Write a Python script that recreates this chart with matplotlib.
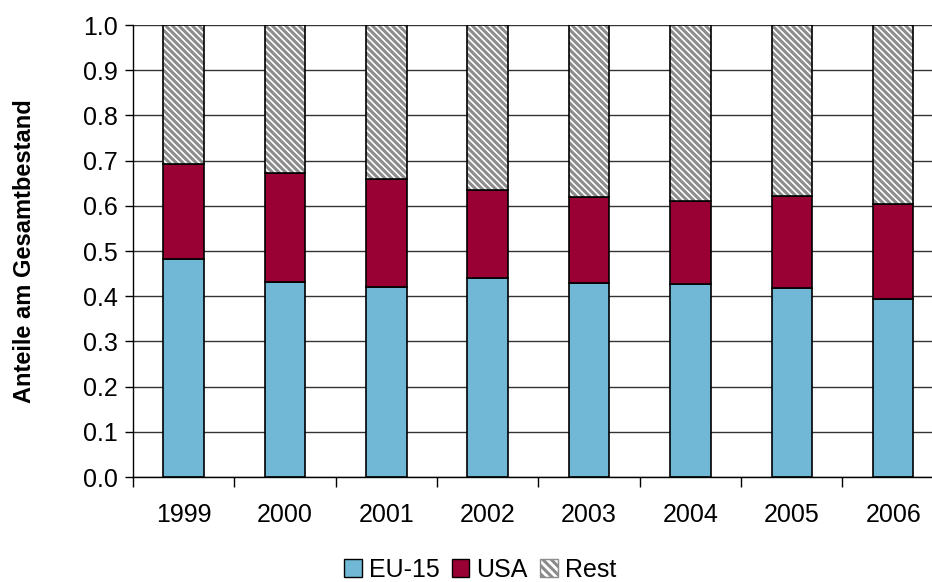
import matplotlib
matplotlib.use("Agg")
import matplotlib.pyplot as plt
import numpy as np
from matplotlib.patches import Patch

plt.rcParams['font.family'] = ['Liberation Sans', 'DejaVu Sans']
plt.rcParams['hatch.linewidth'] = 2.2

years = ['1999', '2000', '2001', '2002', '2003', '2004', '2005', '2006']
eu15 = [0.482, 0.432, 0.420, 0.440, 0.430, 0.426, 0.419, 0.394]
usa = [0.210, 0.240, 0.240, 0.196, 0.190, 0.185, 0.203, 0.209]
rest = [1 - e - u for e, u in zip(eu15, usa)]

fig = plt.figure(figsize=(9.32, 5.82), dpi=100)
ax = fig.add_axes([0.1427, 0.1804, 0.870, 0.7766])

x = np.arange(len(years))
w = 0.4
bottom2 = [e + u for e, u in zip(eu15, usa)]
ax.bar(x, eu15, w, color='#70b8d6', edgecolor='black', lw=1.2, zorder=3)
ax.bar(x, usa, w, bottom=eu15, color='#990033', edgecolor='black', lw=1.2, zorder=3)
# hatch drawn in grey, outline drawn separately in black
ax.bar(x, rest, w, bottom=bottom2, color='white', edgecolor='#8c8c8c', lw=0,
       hatch='\\\\\\\\\\', zorder=3)
ax.bar(x, rest, w, bottom=bottom2, fill=False, edgecolor='black', lw=1.2, zorder=3)

ax.set_xlim(-0.5, 7.5)
ax.set_ylim(0, 1.0)
ax.set_yticks(np.arange(0, 1.01, 0.1))
ax.set_yticklabels([f'{v:.1f}' for v in np.arange(0, 1.01, 0.1)], fontsize=18)
ax.set_xticks(x)
ax.set_xticklabels(years, fontsize=18)
ax.set_xticks(np.arange(-0.5, 8.0, 1.0), minor=True)
ax.tick_params(axis='x', which='major', length=0, pad=19)
ax.tick_params(axis='x', which='minor', length=7, width=1, direction='out')
ax.tick_params(axis='y', length=6, width=1, direction='out', pad=5)

ax.grid(axis='y', color='#333333', lw=1, zorder=0)
for s in ['top', 'right']:
    ax.spines[s].set_visible(False)
for s in ['left', 'bottom']:
    ax.spines[s].set_color('black')
    ax.spines[s].set_linewidth(1)
ax.spines['bottom'].set_zorder(4)

ax.set_ylabel('Anteile am Gesamtbestand', fontsize=17, fontweight='bold', labelpad=34)

handles = [
    Patch(facecolor='#70b8d6', edgecolor='black', lw=1, label='EU-15'),
    Patch(facecolor='#990033', edgecolor='black', lw=1, label='USA'),
    Patch(facecolor='white', edgecolor='#8c8c8c', lw=1, hatch='\\\\\\\\', label='Rest'),
]
fig.legend(handles=handles, loc='center', bbox_to_anchor=(0.515, 0.021), ncol=3,
           frameon=False, fontsize=18, handlelength=0.7, handleheight=0.7,
           handletextpad=0.28, columnspacing=0.5, borderpad=0)

fig.savefig('out.png', dpi=100)
